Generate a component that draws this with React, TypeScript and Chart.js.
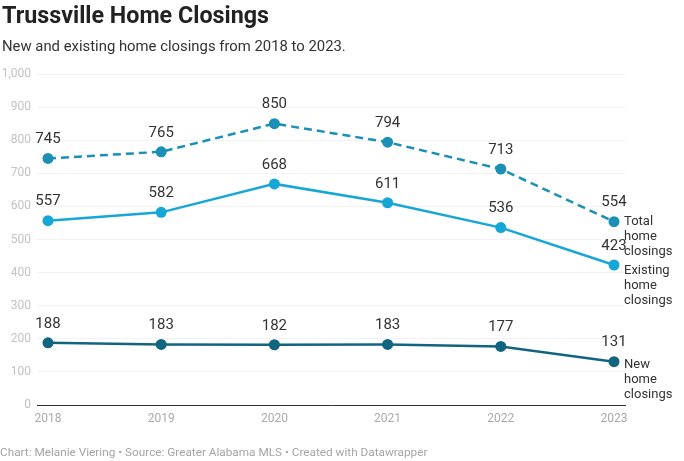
import React, { useEffect, useRef } from "react";
import { Chart, registerables } from "chart.js";

Chart.register(...registerables);

const years = [2018, 2019, 2020, 2021, 2022, 2023];
const totalClosings = [745, 765, 850, 794, 713, 554];
const existingClosings = [557, 582, 668, 611, 536, 423];
const newClosings = [188, 183, 182, 183, 177, 131];
const seriesNames = ["Total home closings", "Existing home closings", "New home closings"];
const yTicks = [0, 100, 200, 300, 400, 500, 600, 700, 800, 900, 1000];

const colTotal = "#1b8fb6";
const colExisting = "#17a7d6";
const colNew = "#12657f";

const labelsPlugin = {
  id: "labelsPlugin",
  afterDatasetsDraw(chart: any) {
    const ctx = chart.ctx;
    const endOffsets = [0, 6, 3];
    ctx.save();
    chart.data.datasets.forEach((ds: any, i: number) => {
      const meta = chart.getDatasetMeta(i);
      ctx.font = "15px Roboto";
      ctx.fillStyle = "#333";
      ctx.textAlign = "center";
      ctx.textBaseline = "middle";
      meta.data.forEach((pt: any, j: number) => {
        ctx.fillText(String(ds.data[j].y), pt.x, pt.y - 19);
      });
      const last = meta.data[meta.data.length - 1];
      const words = seriesNames[i].split(" ");
      ctx.font = "13px Roboto";
      ctx.textAlign = "left";
      words.forEach((w: string, k: number) => {
        ctx.fillText(w, last.x + 10, last.y + endOffsets[i] + k * 15);
      });
    });
    ctx.restore();
  },
};

export default function App() {
  const ref = useRef<HTMLCanvasElement>(null);
  useEffect(() => {
    document.body.style.margin = "0";
    const mk = (vals: number[]) => vals.map((v, i) => ({ x: years[i], y: v }));
    const common = {
      borderWidth: 2.5,
      pointRadius: 5.5,
      pointBorderWidth: 0,
      clip: false as any,
    };
    const chart = new Chart(ref.current!, {
      type: "line",
      data: {
        datasets: [
          { ...common, data: mk(totalClosings), borderColor: colTotal, backgroundColor: colTotal, borderDash: [8, 5] },
          { ...common, data: mk(existingClosings), borderColor: colExisting, backgroundColor: colExisting },
          { ...common, data: mk(newClosings), borderColor: colNew, backgroundColor: colNew },
        ],
      },
      options: {
        animation: false,
        responsive: false,
        layout: { padding: { top: 74, bottom: 29, left: 0, right: 59 } },
        plugins: { legend: { display: false }, tooltip: { enabled: false } },
        scales: {
          x: {
            type: "linear",
            min: 2017.903,
            max: 2023.097,
            afterBuildTicks: (s: any) => {
              s.ticks = years.map((y) => ({ value: y }));
            },
            afterFit: (s: any) => {
              s.height = 27;
            },
            grid: { display: false, drawTicks: false },
            border: { display: true, color: "#333", width: 1 },
            ticks: {
              color: "#aaa",
              font: { family: "Roboto", size: 12 },
              padding: 7,
              callback: (v: any) => String(v),
            },
          },
          y: {
            min: 0,
            max: 1000,
            afterBuildTicks: (s: any) => {
              s.ticks = yTicks.map((v) => ({ value: v }));
            },
            afterFit: (s: any) => {
              s.width = 37;
            },
            grid: { color: "#f2f2f2", drawTicks: false },
            border: { display: false },
            ticks: {
              color: "#c2c2c2",
              font: { family: "Roboto", size: 12 },
              padding: 6,
              callback: (v: any) => Number(v).toLocaleString("en-US"),
            },
          },
        },
      },
      plugins: [labelsPlugin],
    });
    return () => chart.destroy();
  }, []);
  return (
    <div style={{ position: "relative", width: 684, height: 461, background: "#fff", fontFamily: "Roboto" }}>
      <canvas ref={ref} width={684} height={461} style={{ position: "absolute", left: 0, top: 0 }} />
      <div style={{ position: "absolute", left: 2, top: 1, fontSize: 23.3, fontWeight: 700, color: "#222", whiteSpace: "nowrap" }}>
        Trussville Home Closings
      </div>
      <div style={{ position: "absolute", left: 2, top: 37, fontSize: 14.87, color: "#333", whiteSpace: "nowrap" }}>
        New and existing home closings from 2018 to 2023.
      </div>
      <div style={{ position: "absolute", left: 0, top: 445, fontSize: 11.77, color: "#a5a5a5", whiteSpace: "nowrap" }}>
        Chart: Melanie Viering • Source: Greater Alabama MLS • Created with Datawrapper
      </div>
    </div>
  );
}
